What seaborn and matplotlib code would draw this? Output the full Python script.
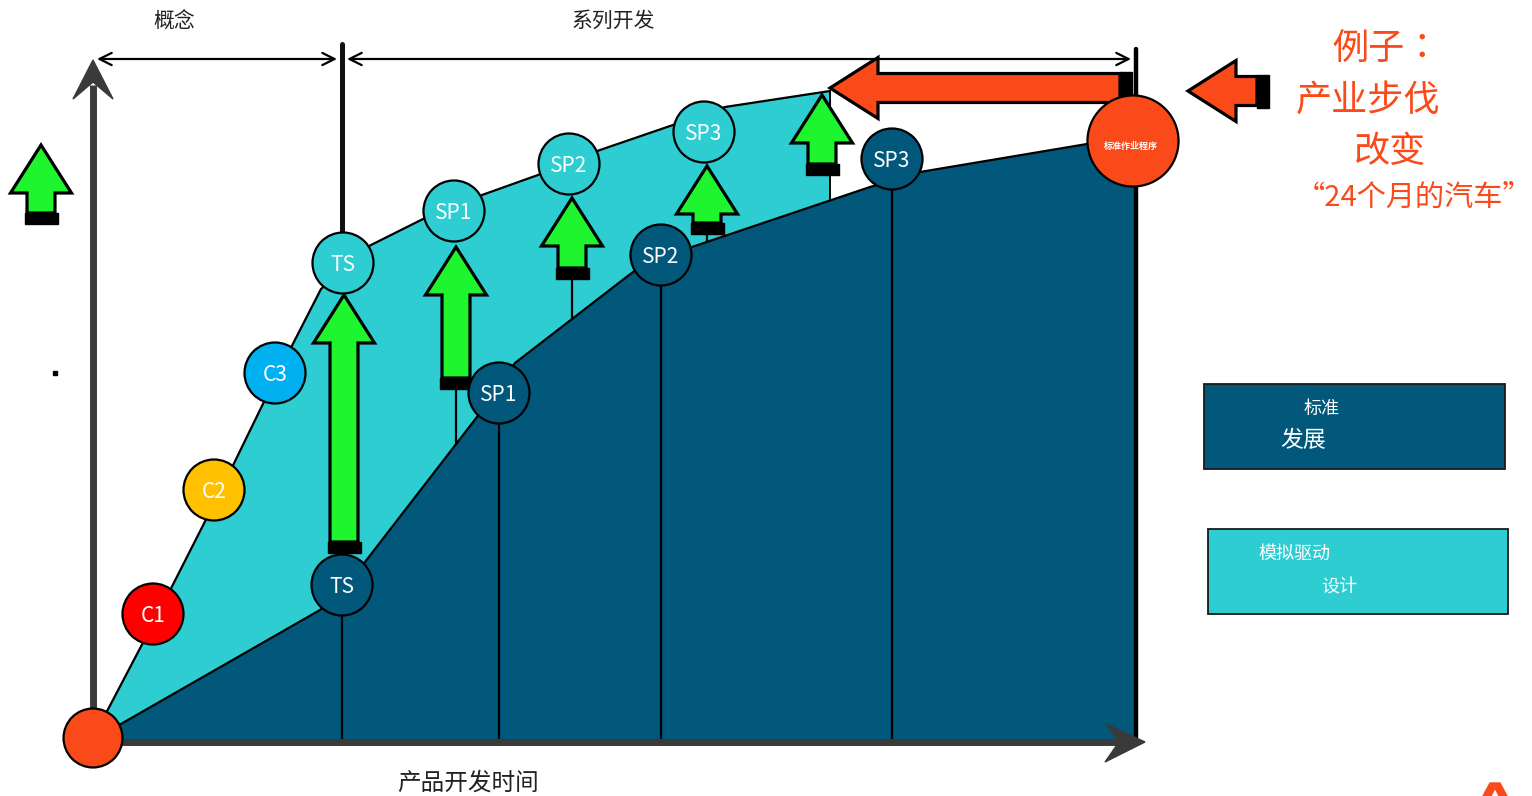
import numpy as np
import pandas as pd
import matplotlib.pyplot as plt
from matplotlib.patches import Polygon, Rectangle
import seaborn as sns

sns.set_theme(style="white")
plt.rcParams['font.family'] = ['Noto Sans CJK SC', 'DejaVu Sans']

# canvas is laid out in pixel units: t = time (x), lvl = level (y, down is low)
# upper edge of the simulation-driven design band
design_t = [93, 158, 221, 278, 321, 369, 425, 482, 538, 600, 673, 725, 830]
design_lvl = [738, 614, 490, 373, 289, 246, 218, 195, 175, 150, 125, 107, 91]
# upper edge of the standard development area
std_t = [93, 320, 365, 477, 515, 633, 692, 870, 920, 1087, 1135]
std_lvl = [740, 610, 562, 417, 363, 272, 247, 187, 172, 144, 136]

# milestones
ms_name = ['C1', 'C2', 'C3', 'TS', 'SP1', 'SP2', 'SP3',
           'TS', 'SP1', 'SP2', 'SP3', '', '标准作业程序']
ms_t = [153, 214, 275, 343, 454, 569, 704, 342, 499, 661, 892, 93, 1133]
ms_lvl = [614, 490, 373, 263, 211, 164, 132, 585, 393, 255, 159, 738, 141]
ms_kind = ['c1', 'c2', 'c3', 'sim', 'sim', 'sim', 'sim',
           'std', 'std', 'std', 'std', 'start', 'sop']

# green "gain" arrows: centre, tip, shaft bottom
gain_t = [41, 344, 456, 572, 707, 822]
gain_tip = [145, 295, 247, 198, 166, 95]
gain_bottom = [213, 542, 378, 268, 223, 164]
gain_stem = [False, False, True, True, True, False]

# orange "pace" arrows: tip, centre line, tail end
pace_tip = [830, 1188]
pace_lvl = [88, 91]
pace_end = [1120, 1257]

AXIS_Y = 742
DARK = '#02587A'
LIGHT = '#2DCDD2'
GREEN = '#1EF52E'
ORANGE = '#FB4A19'
GREY = '#3A3A3A'

fig = plt.figure(figsize=(15.32, 7.96), dpi=100)
ax = fig.add_axes([0, 0, 1, 1])
ax.set_xlim(0, 1532)
ax.set_ylim(796, 0)
ax.axis('off')

# bands
edge_lvl = np.interp(design_t[-1], std_t, std_lvl)
keep = [i for i, t in enumerate(std_t) if t < design_t[-1]]
band_x = design_t + [design_t[-1]] + [std_t[i] for i in keep[::-1]]
band_y = design_lvl + [edge_lvl] + [std_lvl[i] for i in keep[::-1]]
ax.fill(band_x, band_y, color=LIGHT, zorder=1, lw=0)
ax.fill(std_t + [std_t[-1], std_t[0]], std_lvl + [AXIS_Y, AXIS_Y],
        color=DARK, zorder=1.5, lw=0)
sns.lineplot(x=design_t, y=design_lvl, sort=False, color='black', lw=1.6, ax=ax, zorder=2)
sns.lineplot(x=std_t, y=std_lvl, sort=False, color='black', lw=1.6, ax=ax, zorder=2)
ax.plot([design_t[-1]] * 2, [design_lvl[-1], edge_lvl], color='black', lw=1.4, zorder=2)

# drop lines
for t, lv, k in zip(ms_t, ms_lvl, ms_kind):
    if k == 'std':
        ax.plot([t, t], [lv, AXIS_Y], color='black', lw=1.6, zorder=2)
for t, b, s in zip(gain_t, gain_bottom, gain_stem):
    if s:
        ax.plot([t, t], [b + 11, np.interp(t, std_t, std_lvl)], color='black', lw=1.6, zorder=2)

# phase boundaries
ax.plot([342, 342], [44, 232], color='#111111', lw=3.6, zorder=2)
ax.plot([1136, 1136], [49, AXIS_Y], color='black', lw=3.2, zorder=2)

# axes with arrows
ax.plot([93, 93], [AXIS_Y, 85], color=GREY, lw=5, zorder=3, solid_capstyle='butt')
ax.add_patch(Polygon([(93, 60), (113, 99), (93, 82), (73, 99)], color=GREY, zorder=3))
ax.plot([93, 1120], [AXIS_Y, AXIS_Y], color=GREY, lw=5, zorder=3, solid_capstyle='butt')
ax.add_patch(Polygon([(1145, 742), (1106, 724), (1119, 742), (1105, 762)], color=GREY, zorder=3))

# span arrows
for a, b in [(97, 337), (347, 1131)]:
    ax.annotate('', xy=(a, 59), xytext=(b, 59),
                arrowprops=dict(arrowstyle='<->', color='black', lw=1.6,
                                mutation_scale=22, shrinkA=0, shrinkB=0))
ax.text(174, 21, '概念', ha='center', va='center', fontsize=15, color='#222222')
ax.text(613, 21, '系列开发', ha='center', va='center', fontsize=15, color='#222222')
ax.text(468, 783, '产品开发时间', ha='center', va='center', fontsize=17, color='#222222')
ax.plot([55], [373], marker='s', ms=3, color='black')

# green arrows
hw, sw, hl = 30.5, 14, 48
for t, tip, b in zip(gain_t, gain_tip, gain_bottom):
    pts = [(t, tip), (t + hw, tip + hl), (t + sw, tip + hl), (t + sw, b),
           (t - sw, b), (t - sw, tip + hl), (t - hw, tip + hl)]
    ax.add_patch(Polygon(pts, facecolor=GREEN, edgecolor='black', lw=2.3, zorder=4,
                         joinstyle='miter'))
    ax.add_patch(Rectangle((t - 16.5, b), 33, 11, color='black', zorder=4))

# orange arrows
for tip, lv, end in zip(pace_tip, pace_lvl, pace_end):
    pts = [(tip, lv), (tip + 48, lv - 30.5), (tip + 48, lv - 14.5), (end, lv - 14.5),
           (end, lv + 14.5), (tip + 48, lv + 14.5), (tip + 48, lv + 30.5)]
    ax.add_patch(Polygon(pts, facecolor=ORANGE, edgecolor='black', lw=2.3, zorder=4,
                         joinstyle='miter'))
    ax.add_patch(Rectangle((end, lv - 16.5), 12, 33, color='black', zorder=4))

# milestone circles
ms = pd.DataFrame({'t': ms_t, 'lvl': ms_lvl, 'name': ms_name, 'kind': ms_kind})
palette = {'c1': '#FF0000', 'c2': '#FFC000', 'c3': '#00B0F0', 'sim': LIGHT,
           'std': DARK, 'start': ORANGE, 'sop': ORANGE}
sizes = {'c1': 1930, 'c2': 1930, 'c3': 1930, 'sim': 1930, 'std': 1930,
         'start': 1800, 'sop': 4300}
sns.scatterplot(data=ms, x='t', y='lvl', hue='kind', palette=palette, size='kind',
                sizes=sizes, edgecolor='black', linewidth=1.6, legend=False,
                ax=ax, zorder=6)
for _, r in ms.iterrows():
    if r['kind'] == 'sop':
        ax.text(r['t'] - 2, r['lvl'] + 5, r['name'], ha='center', va='center',
                fontsize=6.5, color='white', fontweight='bold', zorder=7)
    elif r['name']:
        ax.text(r['t'], r['lvl'] + 2, r['name'], ha='center', va='center',
                fontsize=15, color='white', zorder=7)

# example text
ax.text(1387, 50, '例子：', ha='center', va='center', fontsize=26, color=ORANGE,
        family=['Noto Sans CJK TC', 'DejaVu Sans'])
ax.text(1368, 101, '产业步伐', ha='center', va='center', fontsize=26, color=ORANGE)
ax.text(1390, 152, '改变', ha='center', va='center', fontsize=26, color=ORANGE)
ax.text(1414, 198, '“24个月的汽车”', ha='center', va='center', fontsize=21, color=ORANGE)

# legend boxes
ax.add_patch(Rectangle((1204, 384), 301, 85, facecolor=DARK, edgecolor='#1a1a1a', lw=1.3))
ax.text(1322, 409, '标准', ha='center', va='center', fontsize=13, color='white')
ax.text(1303, 441, '发展', ha='center', va='center', fontsize=16.5, color='white')
ax.add_patch(Rectangle((1208, 529), 300, 85, facecolor=LIGHT, edgecolor='#1a1a1a', lw=1.3))
ax.text(1294, 554, '模拟驱动', ha='center', va='center', fontsize=13, color='white')
ax.text(1339, 588, '设计', ha='center', va='center', fontsize=13, color='white')

# logo fragment peeking in at the bottom-right corner
ax.add_patch(Polygon([(1483, 796), (1490, 783), (1500, 783), (1507, 796),
                      (1499, 796), (1495, 788), (1491, 796)], color=ORANGE, zorder=3))

fig.savefig('out.png', dpi=100)
